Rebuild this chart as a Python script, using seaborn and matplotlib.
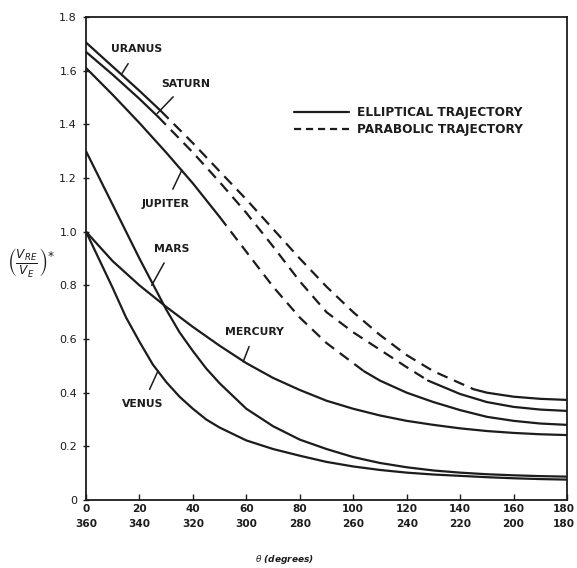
import numpy as np
import pandas as pd
import matplotlib
matplotlib.use("Agg")
import matplotlib.pyplot as plt
from matplotlib.lines import Line2D
from matplotlib.transforms import ScaledTranslation
import seaborn as sns

# Reentry velocity ratio vs. transfer angle for each planet
uranus_theta = [0, 10, 20, 28, 40, 50, 60, 70, 80, 90, 100, 110, 120, 130, 145, 150, 160, 170, 180]
uranus_v     = [1.705, 1.615, 1.525, 1.45, 1.33, 1.225, 1.12, 1.01, 0.90, 0.795, 0.70, 0.615, 0.54, 0.48, 0.413, 0.40, 0.385, 0.377, 0.373]

saturn_theta = [0, 10, 20, 27, 40, 50, 60, 70, 80, 90, 100, 110, 120, 128, 140, 150, 160, 170, 180]
saturn_v     = [1.67, 1.585, 1.495, 1.428, 1.295, 1.185, 1.07, 0.945, 0.815, 0.70, 0.625, 0.56, 0.495, 0.445, 0.395, 0.365, 0.347, 0.337, 0.332]

jupiter_theta = [0, 10, 20, 30, 40, 50, 60, 70, 80, 90, 104, 110, 120, 130, 140, 150, 160, 170, 180]
jupiter_v     = [1.61, 1.51, 1.405, 1.295, 1.18, 1.055, 0.925, 0.795, 0.68, 0.585, 0.48, 0.445, 0.40, 0.365, 0.335, 0.31, 0.295, 0.285, 0.28]

mars_theta = [0, 10, 20, 25, 30, 35, 40, 45, 50, 60, 70, 80, 90, 100, 110, 120, 130, 140, 150, 160, 170, 180]
mars_v     = [1.30, 1.10, 0.90, 0.805, 0.71, 0.625, 0.555, 0.49, 0.435, 0.34, 0.275, 0.225, 0.19, 0.16, 0.138, 0.122, 0.11, 0.102, 0.096, 0.092, 0.089, 0.087]

mercury_theta = [0, 10, 20, 30, 40, 50, 60, 70, 80, 90, 100, 110, 120, 130, 140, 150, 160, 170, 180]
mercury_v     = [1.0, 0.89, 0.80, 0.72, 0.645, 0.575, 0.51, 0.455, 0.41, 0.37, 0.34, 0.315, 0.295, 0.28, 0.267, 0.257, 0.25, 0.245, 0.242]

venus_theta = [0, 5, 10, 15, 20, 25, 30, 35, 40, 45, 50, 60, 70, 80, 90, 100, 110, 120, 130, 140, 150, 160, 170, 180]
venus_v     = [1.0, 0.895, 0.79, 0.68, 0.59, 0.505, 0.44, 0.385, 0.34, 0.30, 0.27, 0.222, 0.19, 0.165, 0.142, 0.125, 0.112, 0.102, 0.095, 0.09, 0.085, 0.081, 0.078, 0.076]

# Angular range flown on a parabolic trajectory (start, end), per planet
parabolic = {"URANUS": (28, 145), "SATURN": (27, 128), "JUPITER": (50, 104)}

planets = {
    "URANUS": (uranus_theta, uranus_v),
    "SATURN": (saturn_theta, saturn_v),
    "JUPITER": (jupiter_theta, jupiter_v),
    "MARS": (mars_theta, mars_v),
    "MERCURY": (mercury_theta, mercury_v),
    "VENUS": (venus_theta, venus_v),
}

x_ticks = [0, 20, 40, 60, 80, 100, 120, 140, 160, 180]
x_ticks_second = [360, 340, 320, 300, 280, 260, 240, 220, 200, 180]
y_ticks = [0, 0.2, 0.4, 0.6, 0.8, 1.0, 1.2, 1.4, 1.6, 1.8]
y_tick_labels = ["0", "0.2", "0.4", "0.6", "0.8", "1.0", "1.2", "1.4", "1.6", "1.8"]

# Label text position and leader-line target (theta, value) for each curve
labels = {
    "URANUS":  ((19.1, 1.679), (13.5, 1.59)),
    "SATURN":  ((37.4, 1.552), (26.6, 1.44)),
    "JUPITER": ((29.9, 1.104), (35.9, 1.23)),
    "MARS":    ((32.2, 0.937), (24.6, 0.80)),
    "MERCURY": ((63.2, 0.627), (58.8, 0.515)),
    "VENUS":   ((21.3, 0.358), (26.9, 0.48)),
}

sns.set_theme(style="ticks")
plt.rcParams["font.family"] = ["DejaVu Sans"]
plt.rcParams["mathtext.fontset"] = "dejavusans"

fig = plt.figure(figsize=(5.77, 5.68), dpi=100)
ax = fig.add_axes([86 / 577, 68 / 568, 481 / 577, 483 / 568])

ink = "#1c1c1c"
LW = 1.6

rows = []
for name, (th, v) in planets.items():
    th = np.asarray(th, float)
    v = np.asarray(v, float)
    if name in parabolic:
        a, b = parabolic[name]
        segs = [(th <= a, "ELLIPTICAL TRAJECTORY"),
                ((th >= a) & (th <= b), "PARABOLIC TRAJECTORY"),
                (th >= b, "ELLIPTICAL TRAJECTORY")]
    else:
        segs = [(np.ones_like(th, bool), "ELLIPTICAL TRAJECTORY")]
    for k, (m, kind) in enumerate(segs):
        rows.append(pd.DataFrame({"theta": th[m], "v": v[m],
                                  "seg": f"{name}-{k}", "kind": kind}))
df = pd.concat(rows, ignore_index=True)

for seg, d in df.groupby("seg", sort=False):
    dashed = d["kind"].iloc[0].startswith("PARABOLIC")
    sns.lineplot(data=d, x="theta", y="v", ax=ax, color=ink, lw=LW,
                 sort=False, estimator=None, legend=False,
                 linestyle=(0, (5, 3.2)) if dashed else "-")

for name, ((tx, ty), (px, py)) in labels.items():
    ax.annotate(name, xy=(px, py), xytext=(tx, ty), ha="center", va="center",
                fontsize=7.8, fontweight="bold", color=ink,
                arrowprops=dict(arrowstyle="-", color=ink, lw=1.1,
                                shrinkA=5, shrinkB=0))

handles = [Line2D([], [], color=ink, lw=LW),
           Line2D([], [], color=ink, lw=LW, linestyle=(0, (3.2, 2.2)))]
ax.legend(handles, ["ELLIPTICAL TRAJECTORY", "PARABOLIC TRAJECTORY"],
          loc="upper left", bbox_to_anchor=(0.432, 0.815), frameon=False,
          handlelength=4.6, handletextpad=0.6, labelspacing=0.28,
          borderpad=0, borderaxespad=0,
          prop={"size": 8.7, "weight": "bold"}, labelcolor=ink)

ax.set_xlim(0, 180)
ax.set_ylim(0, 1.8)
ax.set_xticks(x_ticks)
ax.set_xticklabels([f"{a}\n{b}" for a, b in zip(x_ticks, x_ticks_second)],
                   fontsize=7.6, fontweight="bold", color=ink, linespacing=1.6)
ax.set_yticks(y_ticks)
ax.set_yticklabels(y_tick_labels, fontsize=8, color=ink)
ax.tick_params(axis="x", direction="in", length=4, width=1, pad=3, colors=ink)
ax.tick_params(axis="y", direction="inout", length=5, width=1, pad=4, colors=ink)
# keep the last pair of angle labels inside the figure
last = ax.get_xticklabels()[-1]
last.set_transform(last.get_transform() + ScaledTranslation(-3 / 100, 0, fig.dpi_scale_trans))
for s in ax.spines.values():
    s.set_color(ink)
    s.set_linewidth(1.3)
ax.set_xlabel("")
ax.set_ylabel("")

fig.text(285 / 577, 1 - 560 / 568, r"$\theta$ (degrees)", fontsize=6.5,
         style="italic", fontweight="bold", ha="center", va="center", color=ink)
fig.text(31 / 577, 1 - 263 / 568, r"$\left(\frac{V_{RE}}{V_E}\right)^{*}$",
         fontsize=12.5, ha="center", va="center", color=ink)

fig.savefig("out.png", dpi=100, facecolor="white")
